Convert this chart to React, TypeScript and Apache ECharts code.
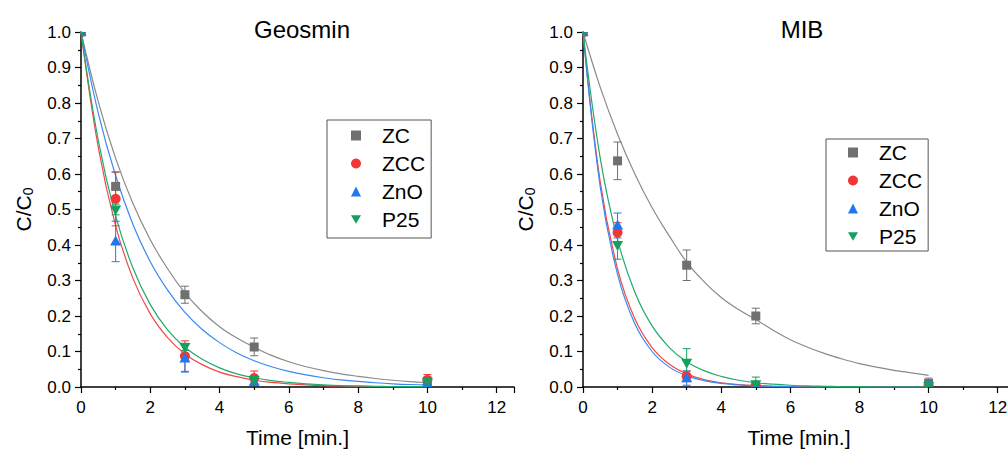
import React, { useEffect, useRef } from "react";
import * as echarts from "echarts";

// Measurement times (min)
const T = [0, 1, 3, 5, 10];

// Geosmin measured C/C0 and error bars
const geoZC = [1.0, 0.565, 0.26, 0.113, 0.013];
const geoZCErr = [0, 0.04, 0.024, 0.025, 0.015];
const geoZCC = [1.0, 0.53, 0.087, 0.025, 0.02];
const geoZCCErr = [0, 0.076, 0.043, 0.02, 0.015];
const geoZnO = [1.0, 0.41, 0.08, 0.015, 0.01];
const geoZnOErr = [0, 0.057, 0.038, 0.01, 0.01];
const geoP25 = [1.0, 0.5, 0.113, 0.02, 0.015];
const geoP25Err = [0, 0.015, 0.01, 0.01, 0.01];

// MIB measured C/C0 and error bars
const mibZC = [1.0, 0.637, 0.343, 0.2, 0.01];
const mibZCErr = [0, 0.053, 0.043, 0.022, 0.015];
const mibZCC = [1.0, 0.435, 0.03, 0.005, 0.004];
const mibZCCErr = [0, 0.028, 0.015, 0.005, 0.005];
const mibZnO = [1.0, 0.455, 0.025, 0.003, 0.005];
const mibZnOErr = [0, 0.035, 0.02, 0.003, 0.004];
const mibP25 = [1.0, 0.4, 0.068, 0.008, 0.003];
const mibP25Err = [0, 0.04, 0.04, 0.02, 0.005];

// Fitted curves
const fitT = [0, 0.5, 1, 1.5, 2, 2.5, 3, 3.5, 4, 4.5, 5, 5.5, 6, 6.5, 7, 7.5, 8, 8.5, 9, 9.5, 10];
const geoZCFit = [1, 0.803, 0.644, 0.517, 0.415, 0.333, 0.265, 0.212, 0.17, 0.138, 0.112, 0.089, 0.071, 0.057, 0.046, 0.037, 0.03, 0.024, 0.019, 0.015, 0.012];
const geoZCCFit = [1, 0.674, 0.454, 0.306, 0.206, 0.139, 0.093, 0.063, 0.042, 0.029, 0.019, 0.013, 0.009, 0.006, 0.004, 0.003, 0.002, 0.001, 0.001, 0.001, 0.0];
const geoZnOFit = [1, 0.771, 0.595, 0.458, 0.353, 0.273, 0.21, 0.162, 0.125, 0.096, 0.074, 0.057, 0.044, 0.034, 0.026, 0.02, 0.016, 0.012, 0.009, 0.007, 0.006];
const geoP25Fit = [1, 0.694, 0.482, 0.335, 0.232, 0.161, 0.112, 0.078, 0.054, 0.037, 0.026, 0.018, 0.013, 0.009, 0.006, 0.004, 0.003, 0.002, 0.001, 0.001, 0.001];
const mibZCFit = [1, 0.844, 0.712, 0.6, 0.505, 0.425, 0.352, 0.297, 0.252, 0.218, 0.19, 0.16, 0.133, 0.112, 0.094, 0.079, 0.066, 0.056, 0.047, 0.04, 0.033];
const mibZCCFit = [1, 0.577, 0.333, 0.192, 0.111, 0.064, 0.037, 0.021, 0.012, 0.007, 0.004, 0.002, 0.001, 0.001, 0, 0, 0, 0, 0, 0, 0];
const mibZnOFit = [1, 0.563, 0.317, 0.178, 0.1, 0.056, 0.032, 0.018, 0.01, 0.006, 0.003, 0.002, 0.001, 0, 0, 0, 0, 0, 0, 0, 0];
const mibP25Fit = [1, 0.644, 0.415, 0.267, 0.172, 0.111, 0.071, 0.046, 0.03, 0.019, 0.012, 0.008, 0.005, 0.003, 0.002, 0.001, 0.001, 0, 0, 0, 0];

const names = ["ZC", "ZCC", "ZnO", "P25"];
const titles = ["Geosmin", "MIB"];
const xTicks = [0, 2, 4, 6, 8, 10, 12];

const COLORS = ["#707070", "#F23535", "#1E78F0", "#13A060"];
const LINE_COLORS = ["#8a8a8a", "#F24848", "#3A88F2", "#22AA6C"];
const SYMBOLS = ["rect", "circle", "triangle", "path://M0,0L10,0L5,8.66Z"];

const FONT = "'Liberation Sans', Arial, sans-serif";

function markerShape(si: number, cx: number, cy: number, color: string) {
  const style = { fill: color };
  if (si === 0) return { type: "rect", shape: { x: cx - 4.5, y: cy - 4.5, width: 9, height: 9 }, style };
  if (si === 1) return { type: "circle", shape: { cx, cy, r: 5 }, style };
  if (si === 2)
    return { type: "polygon", shape: { points: [[cx, cy - 6], [cx - 5.5, cy + 4], [cx + 5.5, cy + 4]] }, style };
  return { type: "polygon", shape: { points: [[cx - 5.5, cy - 4], [cx + 5.5, cy - 4], [cx, cy + 6]] }, style };
}

export default function App() {
  const ref = useRef<HTMLDivElement>(null);

  useEffect(() => {
    if (!ref.current) return;
    const chart = echarts.init(ref.current, null, { renderer: "svg" });

    const panels = [
      { meas: [geoZC, geoZCC, geoZnO, geoP25], errs: [geoZCErr, geoZCCErr, geoZnOErr, geoP25Err], fits: [geoZCFit, geoZCCFit, geoZnOFit, geoP25Fit] },
      { meas: [mibZC, mibZCC, mibZnO, mibP25], errs: [mibZCErr, mibZCCErr, mibZnOErr, mibP25Err], fits: [mibZCFit, mibZCCFit, mibZnOFit, mibP25Fit] },
    ];

    const series: any[] = [];
    // markers (clipped to the plot area, like the original)
    panels.forEach((p, pi) => {
      names.forEach((n, si) => {
        const col = COLORS[si];
        series.push({
          type: "custom",
          name: n,
          xAxisIndex: pi,
          yAxisIndex: pi,
          clip: true,
          z: 5,
          itemStyle: { color: col },
          data: T.map((t, i) => [t, p.meas[si][i]]),
          renderItem: (params: any, api: any) => {
            const c = api.coord([api.value(0), api.value(1)]);
            return markerShape(si, c[0], c[1], col);
          },
        });
      });
    });
    panels.forEach((p, pi) => {
      names.forEach((n, si) => {
        series.push({
          type: "line",
          name: n,
          xAxisIndex: pi,
          yAxisIndex: pi,
          showSymbol: false,
          smooth: 0.4,
          lineStyle: { color: LINE_COLORS[si], width: 1.2 },
          itemStyle: { color: COLORS[si] },
          data: fitT.map((t, i) => [t, p.fits[si][i]]),
          z: 3,
          silent: true,
        });
        const col = COLORS[si];
        series.push({
          type: "custom",
          name: n,
          xAxisIndex: pi,
          yAxisIndex: pi,
          clip: true,
          silent: true,
          z: 4,
          itemStyle: { color: col },
          data: T.map((t, i) => [t, p.meas[si][i], p.errs[si][i]]),
          renderItem: (params: any, api: any) => {
            const x = api.value(0);
            const y = api.value(1);
            const e = api.value(2);
            if (!e) return null;
            const top = api.coord([x, y + e]);
            const bot = api.coord([x, y - e]);
            const hw = 4;
            const style = { stroke: col, lineWidth: 1 };
            return {
              type: "group",
              children: [
                { type: "line", shape: { x1: top[0], y1: top[1], x2: bot[0], y2: bot[1] }, style },
                { type: "line", shape: { x1: top[0] - hw, y1: top[1], x2: top[0] + hw, y2: top[1] }, style },
                { type: "line", shape: { x1: bot[0] - hw, y1: bot[1], x2: bot[0] + hw, y2: bot[1] }, style },
              ],
            };
          },
        });
      });
    });

    const axisCommon = {
      axisLine: { show: true, onZero: false, lineStyle: { color: "#000", width: 1.5 } },
      axisTick: { show: true, inside: false, length: 6, lineStyle: { color: "#000", width: 1.2 } },
      minorTick: { show: true, splitNumber: 2, length: 3, lineStyle: { color: "#000", width: 1.2 } },
      splitLine: { show: false },
      minorSplitLine: { show: false },
    };

    const xAxes = [0, 1].map((gi) => ({
      type: "value",
      gridIndex: gi,
      min: 0,
      max: 12.5,
      interval: 2,
      ...axisCommon,
      axisLabel: {
        color: "#000",
        fontSize: 17,
        fontFamily: FONT,
        margin: 12,
        formatter: (v: number) => (xTicks.includes(v) ? String(v) : ""),
      },
      name: "Time [min.]",
      nameLocation: "middle",
      nameGap: 40,
      nameTextStyle: { color: "#000", fontSize: 21, fontFamily: FONT },
    }));

    const yAxes = [0, 1].map((gi) => ({
      type: "value",
      gridIndex: gi,
      min: 0,
      max: 1,
      interval: 0.1,
      ...axisCommon,
      axisLabel: {
        color: "#000",
        fontSize: 17,
        fontFamily: FONT,
        margin: 10,
        formatter: (v: number) => v.toFixed(1),
      },
      name: "{a|C/C}{s|0}",
      nameLocation: "middle",
      nameGap: 46,
      nameTextStyle: {
        color: "#000",
        fontFamily: FONT,
        rich: {
          a: { fontSize: 21, fontFamily: FONT, color: "#000" },
          s: { fontSize: 14, fontFamily: FONT, color: "#000", padding: [10, 0, 0, 0] },
        },
      },
    }));

    const legendData = names.map((n, i) => ({
      name: n,
      icon: SYMBOLS[i],
      itemStyle: { color: COLORS[i] },
    }));

    const legendCommon = {
      orient: "vertical",
      data: legendData,
      itemWidth: 10,
      itemHeight: 10,
      itemGap: 7,
      borderColor: "#555",
      borderWidth: 1,
      backgroundColor: "#fff",
      selectedMode: false,
      textStyle: { color: "#000", fontSize: 21, fontFamily: FONT, padding: [0, 0, 0, 16] },
    };

    chart.setOption({
      animation: false,
      backgroundColor: "#fff",
      title: [
        { text: titles[0], left: 297, top: 12, textAlign: "center", textStyle: { color: "#000", fontSize: 24, fontWeight: "normal", fontFamily: FONT } },
        { text: titles[1], left: 797, top: 12, textAlign: "center", textStyle: { color: "#000", fontSize: 24, fontWeight: "normal", fontFamily: FONT } },
      ],
      grid: [
        { left: 81, top: 32, width: 433, height: 355, outerBoundsMode: "none", containLabel: false },
        { left: 583, top: 32, width: 432, height: 355, outerBoundsMode: "none", containLabel: false },
      ],
      xAxis: xAxes,
      yAxis: yAxes,
      legend: [
        { ...legendCommon, left: 327, top: 120, padding: [5, 6, 8, 24] },
        { ...legendCommon, left: 826, top: 139, padding: [3, 6, 4, 22] },
      ],
      series,
    });

    return () => chart.dispose();
  }, []);

  return <div ref={ref} style={{ width: 1008, height: 450, position: "absolute", left: 0, top: 0 }} />;
}
